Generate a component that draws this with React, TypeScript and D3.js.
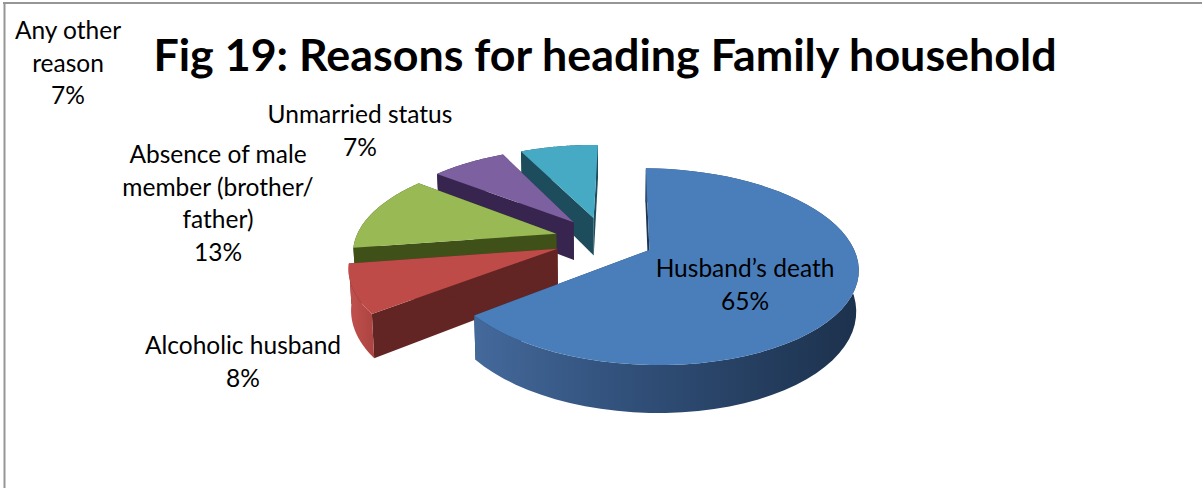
import React from 'react';
import * as d3 from 'd3';

const categories = ["Husband’s death", 'Alcoholic husband', 'Absence of male member (brother/ father)', 'Unmarried status', 'Any other reason'];
const shares = [65, 8, 13, 7, 7];
// wedge sizes as measured off the drawn slices, the 3D view does not follow the labels exactly
const wedgeShares = [64.2, 8.1, 13.0, 7.2, 7.5];
const titleText = 'Fig 19: Reasons for heading Family household';

// label lines as they wrap in the picture, same order as categories
const labelLines = [
  ["Husband’s death"],
  ['Alcoholic husband'],
  ['Absence of male', 'member (brother/', 'father)'],
  ['Unmarried status'],
  ['Any other', 'reason'],
];
const labelAnchors: [number, number][] = [
  [745, 277],
  [243, 354],
  [218, 163],
  [360, 123],
  [68, 39],
];

const topColors = ['#4a7ebb', '#be4b48', '#98b954', '#7d60a0', '#46aac4'];
const cutColors = ['#1f3552', '#632523', '#3f5119', '#38254f', '#1d4d5c'];

const WIDTH = 1202;
const HEIGHT = 488;

// 3D pie view
const CX = 604;
const CY = 239.5;
const RX = 201;
const RY = 92;
const PERSP = 0.1675; // near edge looks bigger than far edge
const EXPLODE = 0.248;
const DEPTH = 39;
const BOTTOM_SCALE = 0.99;
const START = (1 * Math.PI) / 180;

type Pt = [number, number];

// plane coords (u right, v towards viewer) to screen
const project = (u: number, v: number, low: boolean): Pt => {
  const p = 1 / (1 - PERSP * v);
  const s = low ? BOTTOM_SCALE : 1;
  return [CX + RX * u * p * s, CY + RY * v * p + (low ? DEPTH * p : 0)];
};

const line = d3.line<Pt>().curve(d3.curveLinear);

export default function App() {
  const pie = d3.pie<number>().sort(null).startAngle(START).endAngle(START + 2 * Math.PI);
  const slices = pie(wedgeShares);

  const faces = slices.map((s, i) => {
    const mid = (s.startAngle + s.endAngle) / 2;
    const ox = EXPLODE * Math.sin(mid);
    const oy = -EXPLODE * Math.cos(mid);
    const steps = d3.range(0, 61).map((k) => s.startAngle + ((s.endAngle - s.startAngle) * k) / 60);
    const rim = (low: boolean) => steps.map((a) => project(ox + Math.sin(a), oy - Math.cos(a), low));
    const apexTop = project(ox, oy, false);
    const apexLow = project(ox, oy, true);
    const rimTop = rim(false);
    const rimLow = rim(true);
    return {
      i,
      top: line([apexTop, ...rimTop])! + 'Z',
      outer: line([...rimTop, ...rimLow.slice().reverse()])! + 'Z',
      cutStart: line([apexTop, rimTop[0], rimLow[0], apexLow])! + 'Z',
      cutEnd: line([apexTop, rimTop[60], rimLow[60], apexLow])! + 'Z',
    };
  });

  // far slices first, blue one last
  const order = [4, 3, 2, 1, 0];

  return (
    <svg width={WIDTH} height={HEIGHT} style={{ position: 'absolute', left: 0, top: 0 }} fontFamily="Lato, Carlito, sans-serif">
      <defs>
        <linearGradient id="blueWall" gradientUnits="userSpaceOnUse" x1={473} x2={858} y1={0} y2={0}>
          <stop offset="0" stopColor="#44699b" />
          <stop offset="0.4" stopColor="#31507a" />
          <stop offset="1" stopColor="#1c314c" />
        </linearGradient>
        <linearGradient id="redWall" gradientUnits="userSpaceOnUse" x1={350} x2={378} y1={0} y2={0}>
          <stop offset="0" stopColor="#c0504d" />
          <stop offset="1" stopColor="#a8423f" />
        </linearGradient>
      </defs>
      <rect x={0} y={0} width={WIDTH} height={HEIGHT} fill="#fff" />
      <line x1={4.5} x2={4.5} y1={2} y2={HEIGHT} stroke="#969696" strokeWidth={2} />
      <line x1={3} x2={WIDTH} y1={3} y2={3} stroke="#969696" strokeWidth={2} />
      {order.map((i) => {
        const f = faces[i];
        return (
          <g key={categories[i]}>
            <path d={f.cutStart} fill={cutColors[i]} />
            <path d={f.cutEnd} fill={cutColors[i]} />
            <path d={f.outer} fill={i === 0 ? 'url(#blueWall)' : i === 1 ? 'url(#redWall)' : cutColors[i]} />
            <path d={f.top} fill={topColors[i]} />
          </g>
        );
      })}
      <text x={605} y={71} textAnchor="middle" fontSize={44.8} fontWeight={700} fill="#000">{titleText}</text>
      {labelLines.map((lines, i) => (
        <text key={categories[i]} x={labelAnchors[i][0]} y={labelAnchors[i][1]} textAnchor="middle" fontSize={24.5} fill="#000">
          {[...lines, `${shares[i]}%`].map((t, k) => (
            <tspan key={k} x={labelAnchors[i][0]} dy={k === 0 ? 0 : 32.5}>{t}</tspan>
          ))}
        </text>
      ))}
    </svg>
  );
}
